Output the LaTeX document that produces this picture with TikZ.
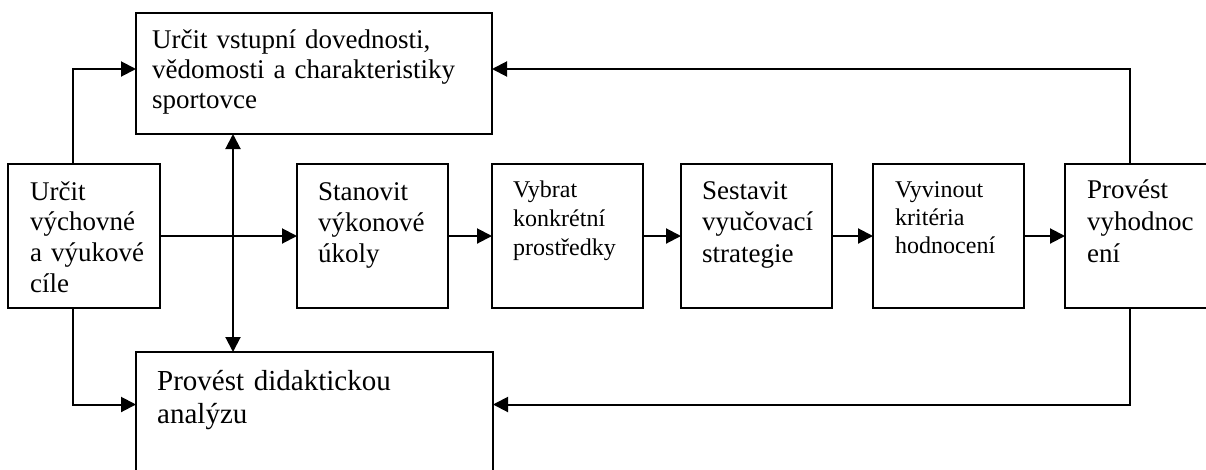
\documentclass[tikz,border=0pt]{standalone}
\usepackage{fontspec}
\setmainfont{Liberation Serif}
\usetikzlibrary{arrows.meta}
\begin{document}
\begin{tikzpicture}[x=1pt,y=-1pt,
  box/.style={draw=black,line width=1.7pt,inner sep=0pt,outer sep=0pt,minimum height=144pt,minimum width=151pt},
  txt/.style={anchor=base west,inner sep=0pt,align=left,text width=#1},
  txt/.default=200pt,
  big/.style={font=\fontsize{27}{30.8}\selectfont},
  small/.style={font=\fontsize{24}{28.5}\selectfont},
  huge/.style={font=\fontsize{29}{33}\selectfont},
  arr/.style={line width=2pt,-{Triangle[length=15pt,width=15pt]}},
  darr/.style={line width=2pt,{Triangle[length=15pt,width=15pt]}-{Triangle[length=15pt,width=15pt]}}]
\clip (0,0) rectangle (1206,469);
\useasboundingbox (0,0) rectangle (1206,469);
% boxes
\node[box,minimum width=152pt] (A) at (84,236) {};
\node[box,minimum width=356pt,minimum height=121pt] (B) at (314,73.5) {};
\node[box] (C) at (372.5,236) {};
\node[box] (D) at (567.5,236) {};
\node[box] (E) at (756.5,236) {};
\node[box] (F) at (948.5,236) {};
\node[box] (G) at (1140.5,236) {};
\node[box,minimum width=357pt,minimum height=130pt] (H) at (314.5,417) {};
% texts
\node[txt,big] (tA) at (30,200) {Určit\\výchovné\\a výukové\\cíle};
\node[txt=340pt,big,font=\fontsize{27}{30}\selectfont] (tB) at (152,48) {Určit vstupní dovednosti,\\vědomosti a charakteristiky\\sportovce};
\node[txt,big,font=\fontsize{27}{31}\selectfont] (tC) at (318,200) {Stanovit\\výkonové\\úkoly};
\node[txt,small,font=\fontsize{24}{29}\selectfont] (tD) at (513,197) {Vybrat\\konkrétní\\prostředky};
\node[txt,big,font=\fontsize{27}{31.5}\selectfont] (tE) at (702,199) {Sestavit\\vyučovací\\strategie};
\node[txt,small,font=\fontsize{24}{28}\selectfont] (tF) at (895,197) {Vyvinout\\kritéria\\hodnocení};
\node[txt,big,font=\fontsize{27}{32}\selectfont] (tG) at (1087,198) {Provést\\vyhodnoc\\ení};
\node[txt=340pt,huge] (tH) at (157,390) {Provést didaktickou\\analýzu};
% helper coordinates
\coordinate (ax) at (73,0);
\coordinate (vx) at (233,0);
\coordinate (gx) at (1130,0);
\coordinate (ty) at (0,69);
\coordinate (by) at (0,404.5);
% connectors
\draw[arr] (A.east) -- (C.west);
\draw[arr] (C) -- (D);
\draw[arr] (D) -- (E);
\draw[arr] (E) -- (F);
\draw[arr] (F) -- (G);
\draw[arr] (A.north -| ax) |- (B.west |- ty);
\draw[arr] (A.south -| ax) |- (H.west |- by);
\draw[darr] (B.south -| vx) -- (H.north -| vx);
\draw[arr] (G.north -| gx) |- (B.east |- ty);
\draw[arr] (G.south -| gx) |- (H.east |- by);
\end{tikzpicture}
\end{document}
